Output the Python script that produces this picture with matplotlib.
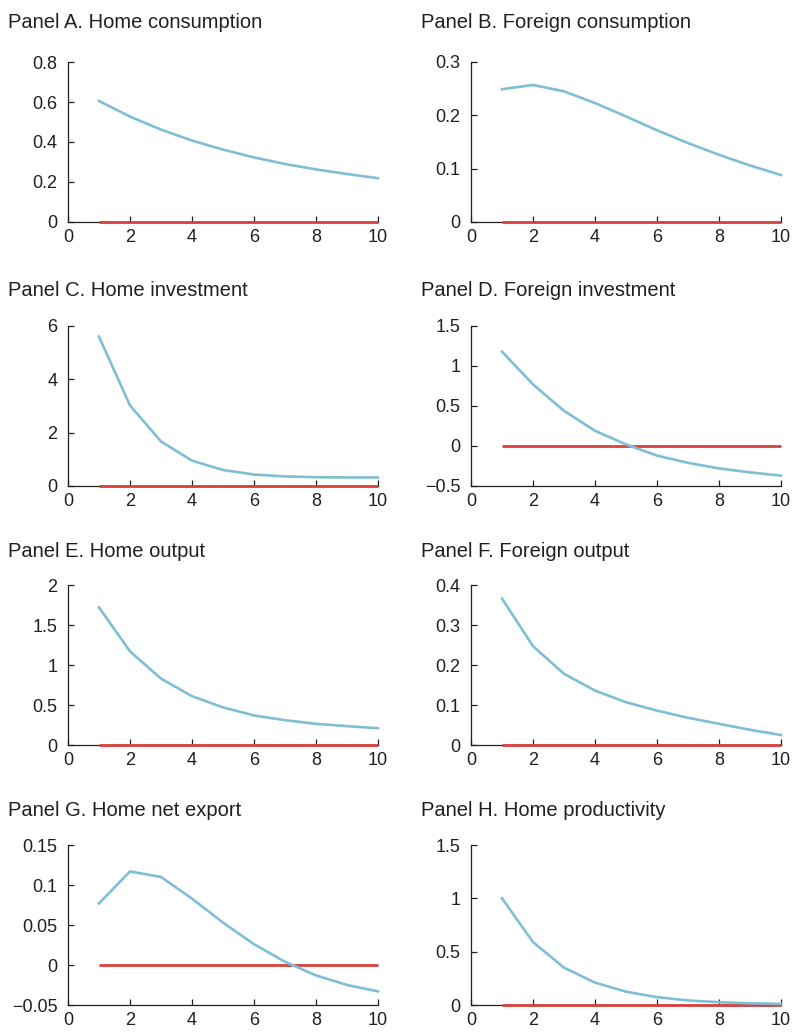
import matplotlib
matplotlib.use('Agg')
import matplotlib.pyplot as plt
from matplotlib.ticker import FuncFormatter, MultipleLocator

plt.rcParams['font.family'] = ['Liberation Sans', 'DejaVu Sans']

periods = [1, 2, 3, 4, 5, 6, 7, 8, 9, 10]

titles = ['Panel A. Home consumption', 'Panel B. Foreign consumption',
          'Panel C. Home investment', 'Panel D. Foreign investment',
          'Panel E. Home output', 'Panel F. Foreign output',
          'Panel G. Home net export', 'Panel H. Home productivity']

home_cons = [0.605, 0.527, 0.462, 0.407, 0.362, 0.323, 0.290, 0.263, 0.240, 0.219]
foreign_cons = [0.249, 0.257, 0.245, 0.223, 0.198, 0.172, 0.148, 0.126, 0.106, 0.088]
home_inv = [5.60, 3.02, 1.67, 0.95, 0.60, 0.43, 0.36, 0.33, 0.32, 0.32]
foreign_inv = [1.18, 0.77, 0.44, 0.19, 0.02, -0.12, -0.21, -0.28, -0.33, -0.37]
home_out = [1.72, 1.17, 0.83, 0.61, 0.47, 0.37, 0.31, 0.265, 0.235, 0.21]
foreign_out = [0.366, 0.247, 0.178, 0.136, 0.107, 0.086, 0.068, 0.053, 0.038, 0.025]
home_nx = [0.077, 0.117, 0.110, 0.083, 0.053, 0.026, 0.004, -0.013, -0.025, -0.033]
home_prod = [1.00, 0.59, 0.35, 0.21, 0.125, 0.073, 0.043, 0.026, 0.016, 0.010]
baseline = [0, 0, 0, 0, 0, 0, 0, 0, 0, 0]

series = [home_cons, foreign_cons, home_inv, foreign_inv,
          home_out, foreign_out, home_nx, home_prod]
ylims = [(0, 0.8), (0, 0.3), (0, 6), (-0.5, 1.5),
         (0, 2), (0, 0.4), (-0.05, 0.15), (0, 1.5)]
ysteps = [0.2, 0.1, 2, 0.5, 0.5, 0.1, 0.05, 0.5]

blue = '#7fbfd5'
red = '#d8403c'
ink = '#231f20'

W, H = 794, 1032
fig = plt.figure(figsize=(W / 100, H / 100), dpi=100)

col_left = [68, 471]
row_top = [62, 326, 585, 845]
title_base = [28, 296, 557, 816]
title_x = [8, 421]
ax_w, ax_h = 310, 160


def fmt(v, pos):
    s = '{:g}'.format(round(v, 6))
    if s == '-0':
        s = '0'
    return s.replace('-', '\u2212')


for i, y in enumerate(series):
    r, c = divmod(i, 2)
    left = col_left[c] / W
    bottom = (H - row_top[r] - ax_h) / H
    ax = fig.add_axes([left, bottom, ax_w / W, ax_h / H])

    ax.plot(periods, baseline, color=red, lw=2.0, zorder=3, clip_on=False,
            solid_capstyle='butt')
    ax.plot(periods, y, color=blue, lw=1.9, zorder=4, clip_on=False)

    ax.set_xlim(0, 10)
    ax.set_ylim(*ylims[i])
    ax.xaxis.set_major_locator(MultipleLocator(2))
    ax.yaxis.set_major_locator(MultipleLocator(ysteps[i]))
    ax.yaxis.set_major_formatter(FuncFormatter(fmt))

    for side in ['top', 'right']:
        ax.spines[side].set_visible(False)
    for side in ['left', 'bottom']:
        ax.spines[side].set_color(ink)
        ax.spines[side].set_linewidth(0.9)
    ax.tick_params(direction='in', length=4, width=0.9, color=ink,
                   labelsize=13, labelcolor=ink)
    ax.tick_params(axis='x', pad=5)
    ax.tick_params(axis='y', pad=7.5)
    ax.patch.set_visible(False)

    fig.text(title_x[c] / W, (H - title_base[r]) / H, titles[i],
             fontsize=14.5, color=ink, va='baseline', ha='left')

fig.savefig('out.png', dpi=100)
